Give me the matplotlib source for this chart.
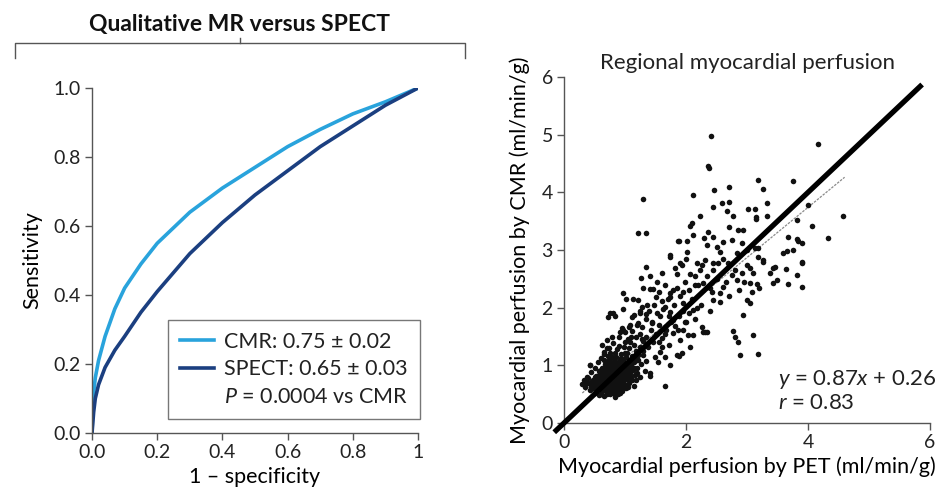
"""ROC comparison and regional perfusion scatter, CMR vs SPECT / PET."""

from __future__ import annotations

import matplotlib

matplotlib.use("Agg")
import matplotlib.pyplot as plt
from matplotlib.lines import Line2D
import numpy as np

FONT = "Lato"
SPINE_COLOR = "#555555"
TEXT_COLOR = "#222222"
CMR_COLOR = "#29a3dc"
SPECT_COLOR = "#1b3f80"
TICK_SIZE = 14
LABEL_SIZE = 15.5
TITLE_SIZE = 16.5
LEGEND_SIZE = 15.5

# --- ROC curves ---
cmr_fpr = [0.0, 0.003, 0.01, 0.02, 0.04, 0.07, 0.10, 0.15, 0.20, 0.30, 0.40, 0.50,
           0.60, 0.70, 0.80, 0.90, 1.0]
cmr_tpr = [0.0, 0.10, 0.16, 0.21, 0.28, 0.36, 0.42, 0.49, 0.55, 0.64, 0.71, 0.77,
           0.83, 0.88, 0.925, 0.96, 1.0]
spect_fpr = [0.0, 0.005, 0.01, 0.02, 0.04, 0.07, 0.10, 0.15, 0.20, 0.30, 0.40, 0.50,
             0.60, 0.70, 0.80, 0.90, 1.0]
spect_tpr = [0.0, 0.06, 0.10, 0.14, 0.19, 0.24, 0.28, 0.35, 0.41, 0.52, 0.61, 0.69,
             0.76, 0.83, 0.89, 0.95, 1.0]
roc_ticks = [0.0, 0.2, 0.4, 0.6, 0.8, 1.0]
roc_xticklabels = ["0.0", "0.2", "0.4", "0.6", "0.8", "1"]
roc_yticklabels = ["0.0", "0.2", "0.4", "0.6", "0.8", "1.0"]
legend_labels = ["CMR: 0.75 \u00b1 0.02", "SPECT: 0.65 \u00b1 0.03",
                 "$P$ = 0.0004 vs CMR"]

# --- regional perfusion, PET (x) vs CMR (y), ml/min/g ---
blob_pet = [0.30, 0.33, 0.35, 0.38, 0.40, 0.42, 0.43, 0.45, 0.46, 0.48, 0.50, 0.50,
            0.52, 0.53, 0.55, 0.55, 0.57, 0.57, 0.58, 0.59, 0.60, 0.60, 0.62, 0.62,
            0.63, 0.64, 0.65, 0.65, 0.66, 0.67, 0.68, 0.68, 0.69, 0.70, 0.70, 0.71,
            0.72, 0.72, 0.73, 0.74, 0.75, 0.75, 0.76, 0.76, 0.77, 0.78, 0.78, 0.79,
            0.80, 0.80, 0.81, 0.82, 0.82, 0.83, 0.83, 0.84, 0.85, 0.85, 0.86, 0.86,
            0.87, 0.88, 0.88, 0.89, 0.90, 0.90, 0.91, 0.92, 0.92, 0.93, 0.94, 0.94,
            0.95, 0.96, 0.96, 0.97, 0.98, 0.98, 0.99, 1.00, 1.00, 1.01, 1.02, 1.03,
            1.04, 1.05, 1.06, 1.06, 1.08, 1.09, 1.10, 1.10, 1.12, 1.13, 1.14, 1.15,
            1.17, 1.18, 1.20, 1.22, 1.24, 1.25, 1.27, 1.30, 1.33, 1.35,
            0.62, 0.66, 0.70, 0.74, 0.74, 0.78, 0.80, 0.82, 0.84, 0.86, 0.88, 0.90,
            0.92, 0.94, 0.96, 0.98, 1.00, 1.02, 1.04, 1.08, 0.64, 0.68, 0.72, 0.76,
            0.80, 0.84, 0.88, 0.92, 0.96, 1.00, 0.58, 0.54, 0.66, 0.72, 0.78, 0.86,
            0.94, 1.02, 1.12, 0.48]
blob_cmr = [0.68, 0.75, 0.62, 0.80, 0.70, 0.58, 1.00, 0.88, 0.66, 0.75, 0.52, 0.95,
            0.62, 0.82, 0.70, 1.05, 0.48, 0.90, 0.60, 0.78, 0.66, 1.12, 0.55, 0.85,
            0.95, 0.72, 0.46, 1.20, 0.62, 0.80, 0.90, 1.02, 0.55, 0.70, 1.30, 0.85,
            0.62, 0.98, 0.76, 1.10, 0.50, 0.90, 0.68, 1.22, 0.82, 0.58, 1.00, 0.74,
            0.92, 1.38, 0.64, 0.86, 1.08, 0.45, 0.78, 0.96, 0.70, 1.15, 0.56, 0.88,
            1.28, 0.80, 1.02, 0.62, 0.94, 0.74, 1.10, 0.52, 0.86, 1.20, 0.68, 0.98,
            0.80, 1.05, 0.60, 0.90, 1.32, 0.74, 1.00, 0.84, 0.66, 1.14, 0.92, 0.76,
            1.22, 0.98, 0.70, 1.08, 0.86, 1.40, 0.78, 1.00, 1.16, 0.92, 0.64, 1.06,
            0.84, 1.25, 0.96, 1.10, 0.80, 1.32, 1.02, 1.18, 0.90, 1.08,
            0.76, 0.86, 0.78, 0.66, 0.84, 0.92, 0.72, 0.98, 0.62, 0.76, 0.92, 0.66,
            1.00, 0.80, 0.94, 0.86, 0.76, 1.04, 0.84, 0.94, 0.64, 0.74, 0.90, 0.76,
            0.84, 0.88, 0.70, 0.78, 0.70, 0.92, 0.70, 0.74, 1.10, 1.16, 1.14, 1.00,
            1.12, 0.60, 0.74, 0.60]

core_pet = [0.56, 0.58, 0.60, 0.61, 0.63, 0.64, 0.65, 0.66, 0.67, 0.68, 0.69, 0.70,
            0.71, 0.72, 0.73, 0.74, 0.75, 0.76, 0.77, 0.78, 0.79, 0.80, 0.81, 0.82,
            0.83, 0.84, 0.85, 0.86, 0.87, 0.88, 0.89, 0.90, 0.91, 0.92, 0.93, 0.94,
            0.95, 0.96, 0.97, 0.98, 0.99, 1.00, 1.01, 1.03, 1.05, 1.07, 1.09, 1.11,
            1.14, 1.16, 0.52, 0.50, 0.46, 0.44, 0.40, 0.36, 0.60, 0.70, 0.80, 0.88,
            0.95, 1.05, 1.18, 1.20, 0.66, 0.74, 0.84, 0.90, 1.00, 1.06]
core_cmr = [0.64, 0.84, 0.74, 0.92, 0.68, 0.80, 0.58, 0.96, 0.70, 0.84, 0.64, 0.92,
            0.74, 1.06, 0.58, 0.94, 0.80, 0.60, 1.04, 0.70, 0.88, 0.62, 1.00, 0.76,
            0.90, 0.54, 0.82, 1.06, 0.68, 0.96, 0.84, 0.58, 0.90, 0.70, 1.06, 0.88,
            0.64, 0.82, 1.10, 0.96, 0.68, 1.04, 0.82, 0.96, 0.88, 1.02, 0.82, 1.08,
            0.96, 1.12, 0.70, 0.80, 0.72, 0.64, 0.78, 0.70, 0.50, 0.50, 0.52, 0.50,
            0.56, 0.62, 0.74, 0.86, 1.24, 1.30, 1.22, 1.34, 1.22, 1.30]

mid_pet = [0.43, 0.70, 0.79, 0.62, 0.90, 1.00, 1.05, 1.12, 1.18, 1.25, 1.30, 0.95,
           1.08, 1.21, 1.20, 1.38, 1.46, 1.49, 1.57, 1.61, 1.66, 1.79, 1.90, 1.89,
           1.41, 1.66, 1.54, 1.74, 1.85, 1.41, 1.30, 1.35, 1.42, 1.50, 1.55, 1.60,
           1.68, 1.72, 1.75, 1.82, 1.88, 1.95, 2.00, 2.05, 1.45, 1.28, 1.15, 1.35,
           0.72, 0.80, 0.97, 0.84, 0.75, 0.92, 0.97, 1.07, 1.11, 1.21, 1.28, 1.25,
           1.34, 1.44, 1.52, 1.62, 1.74, 1.79, 1.87, 2.07, 1.93, 2.12, 2.28, 2.34,
           1.40, 1.48, 1.58, 1.65, 1.70, 1.80, 1.85, 1.90, 1.98, 2.05, 2.10, 2.15,
           2.20, 2.25, 2.35, 2.40, 2.50, 2.55, 2.65, 2.70, 2.80, 2.95, 3.10, 3.20,
           1.55, 1.65, 1.72, 1.95, 2.15, 2.40, 1.20, 1.10, 1.00, 1.25, 1.15, 2.60,
           2.50, 2.30, 2.00, 1.60]
mid_cmr = [1.00, 1.44, 1.49, 1.35, 1.50, 1.58, 1.45, 1.60, 1.50, 1.55, 1.42, 1.65,
           1.70, 1.18, 1.09, 1.32, 1.40, 1.14, 1.23, 1.32, 1.14, 1.56, 1.44, 1.16,
           0.81, 0.64, 1.06, 1.00, 1.18, 0.87, 1.25, 1.50, 1.62, 1.55, 1.70, 1.48,
           1.62, 1.35, 1.75, 1.68, 1.85, 1.62, 1.75, 1.90, 1.75, 1.45, 1.35, 1.80,
           1.84, 1.91, 1.98, 1.85, 1.91, 1.58, 1.61, 1.66, 1.84, 1.73, 1.66, 1.91,
           1.89, 1.73, 1.91, 1.98, 1.92, 1.78, 1.61, 1.32, 1.21, 1.52, 1.58, 1.58,
           1.95, 2.05, 1.85, 2.02, 2.15, 2.05, 2.35, 2.20, 2.45, 2.30, 2.15, 2.55,
           2.40, 2.05, 2.55, 2.35, 2.50, 2.10, 2.45, 2.20, 2.65, 2.45, 2.60, 2.35,
           1.40, 1.55, 1.85, 1.95, 1.80, 1.95, 1.70, 1.50, 1.40, 1.95, 1.88, 2.85,
           3.05, 3.20, 2.85, 2.60]

upper_pet = [1.34, 1.26, 1.41, 1.52, 1.66, 1.82, 1.85, 1.30, 1.41, 1.46, 1.56, 1.74,
             1.79, 0.97, 1.02, 1.13, 1.21, 1.51, 1.61, 1.74, 1.28, 1.36, 1.93, 2.26,
             2.31, 2.52, 3.00, 3.26, 3.46, 3.64, 3.90, 3.38, 3.82, 3.49, 3.43, 3.67,
             3.90, 2.07, 2.23, 2.44, 2.75, 2.92, 3.05, 2.84, 3.05, 3.16, 2.87, 3.08,
             2.15, 2.28, 2.43, 2.56, 2.61, 2.44, 3.00, 3.05, 1.95, 1.95, 2.12, 2.18,
             2.93, 1.98, 2.26, 2.31, 2.77, 2.80, 3.10, 2.03, 2.89, 3.18, 2.85, 1.74,
             1.90, 2.02, 2.18, 2.44, 2.69, 2.56, 2.84, 3.00, 3.13, 3.26, 3.43, 3.59,
             3.75, 3.90]
upper_cmr = [2.70, 2.51, 2.55, 2.44, 2.39, 2.69, 2.58, 2.34, 2.32, 2.32, 2.27, 2.25,
             2.30, 2.25, 2.15, 2.15, 2.13, 2.18, 2.11, 2.18, 2.01, 2.05, 2.74, 2.74,
             2.82, 2.77, 2.74, 2.79, 2.70, 2.67, 2.77, 2.60, 2.57, 2.48, 2.43, 2.41,
             2.36, 2.58, 2.65, 2.65, 2.57, 2.60, 2.69, 2.48, 2.43, 2.41, 2.30, 2.27,
             2.39, 2.43, 2.27, 2.25, 2.36, 2.13, 2.13, 2.08, 2.27, 2.08, 1.96, 1.99,
             1.87, 1.75, 1.66, 1.58, 1.59, 1.49, 1.52, 1.52, 1.18, 1.20, 1.40, 2.88,
             2.77, 2.96, 2.77, 2.77, 2.77, 2.96, 2.94, 3.00, 3.03, 2.82, 2.69, 2.94,
             3.00, 2.79]

top_pet = [2.41, 4.16, 2.36, 2.38, 3.18, 3.75, 2.70, 2.46, 2.12, 3.26, 2.70, 2.59,
           3.33, 2.44, 2.67, 3.02, 3.13, 3.15, 3.15, 3.33, 2.77, 2.23, 4.57, 3.82,
           4.00, 4.07, 4.33, 2.10, 2.07, 2.36, 2.44, 2.70, 2.85, 2.93, 2.12, 2.02,
           2.61, 2.34, 2.75, 2.92, 3.18, 3.67, 3.82, 3.84, 3.90, 3.66, 3.18, 1.30,
           1.21, 1.34, 1.87, 1.74, 1.89]
top_cmr = [4.97, 4.83, 4.45, 4.43, 4.21, 4.19, 4.10, 4.04, 3.95, 4.05, 3.83, 3.82,
           3.81, 3.74, 3.67, 3.72, 3.72, 3.57, 3.53, 3.59, 3.59, 3.59, 3.59, 3.52,
           3.78, 3.41, 3.21, 3.47, 3.41, 3.31, 3.22, 3.40, 3.35, 3.35, 3.26, 3.15,
           3.14, 3.08, 3.17, 3.12, 3.03, 3.22, 3.19, 3.15, 3.12, 2.98, 2.88, 3.88,
           3.29, 3.29, 3.15, 2.91, 3.15]

fit_slope = 0.87
fit_intercept = 0.26
fit_range = [0.3, 4.6]
identity_range = [-0.16, 5.87]
pet_ticks = [0, 2, 4, 6]
cmr_ticks = [0, 1, 2, 3, 4, 5, 6]


def configure_plot_style() -> None:
    plt.rcParams.update({
        "font.family": [FONT, "DejaVu Sans"],
        "mathtext.fontset": "custom",
        "mathtext.rm": FONT,
        "mathtext.it": f"{FONT}:italic",
        "figure.facecolor": "white",
        "axes.facecolor": "white",
        "text.color": TEXT_COLOR,
    })


def style_axes(ax) -> None:
    for side in ("top", "right"):
        ax.spines[side].set_visible(False)
    for side in ("left", "bottom"):
        ax.spines[side].set_color(SPINE_COLOR)
        ax.spines[side].set_linewidth(1.0)
    ax.tick_params(direction="out", length=5, width=1.0, color=SPINE_COLOR,
                   labelsize=TICK_SIZE, labelcolor=TEXT_COLOR, pad=3)


def draw_roc(fig, ax) -> None:
    ax.plot(cmr_fpr, cmr_tpr, color=CMR_COLOR, lw=2.6, solid_capstyle="round")
    ax.plot(spect_fpr, spect_tpr, color=SPECT_COLOR, lw=2.6, solid_capstyle="round")
    ax.set_xlim(0, 1)
    ax.set_ylim(0, 1)
    ax.set_xticks(roc_ticks, roc_xticklabels)
    ax.set_yticks(roc_ticks, roc_yticklabels)
    style_axes(ax)
    ax.set_xlabel("1 \u2013 specificity", fontsize=LABEL_SIZE, labelpad=4)
    ax.set_ylabel("Sensitivity", fontsize=LABEL_SIZE, labelpad=8)

    handles = [Line2D([], [], color=CMR_COLOR, lw=2.6),
               Line2D([], [], color=SPECT_COLOR, lw=2.6),
               Line2D([], [], color="none")]
    leg = ax.legend(handles, legend_labels, loc="lower right",
                    bbox_to_anchor=(1.006, 0.041), fontsize=LEGEND_SIZE,
                    frameon=True, fancybox=False, edgecolor=SPINE_COLOR,
                    handlelength=1.6, handletextpad=0.45, labelspacing=0.35,
                    borderpad=0.55, borderaxespad=0)
    leg.get_frame().set_linewidth(1.0)

    # bracket above the panel
    w, h = fig.get_size_inches() * fig.dpi
    px = lambda x, y: (x / w, 1 - y / h)
    pts = [px(15, 58), px(15, 43), px(465, 43), px(465, 58)]
    fig.add_artist(Line2D([p[0] for p in pts], [p[1] for p in pts],
                          color=SPINE_COLOR, lw=1.0, transform=fig.transFigure))
    a, b = px(240, 43), px(240, 38)
    fig.add_artist(Line2D([a[0], b[0]], [a[1], b[1]], color=SPINE_COLOR, lw=1.0,
                          transform=fig.transFigure))
    x0, y0 = px(240, 24)
    fig.text(x0, y0, "Qualitative MR versus SPECT", ha="center", va="center",
             fontsize=TITLE_SIZE, fontweight="bold", color="#111111")


def draw_scatter(ax) -> None:
    pet = np.concatenate([blob_pet, core_pet, mid_pet, upper_pet, top_pet])
    cmr = np.concatenate([blob_cmr, core_cmr, mid_cmr, upper_cmr, top_cmr])
    ax.scatter(pet, cmr, s=16, color="#111111", linewidths=0, zorder=3)

    fx = np.array(fit_range)
    ax.plot(fx, fit_slope * fx + fit_intercept, color="#8a8a8a", lw=0.9,
            ls=(0, (2, 1)), zorder=2)
    ax.plot(identity_range, identity_range, color="black", lw=3.8,
            solid_capstyle="butt", zorder=4, clip_on=False)

    ax.set_xlim(0, 6)
    ax.set_ylim(0, 6)
    ax.set_xticks(pet_ticks)
    ax.set_yticks(cmr_ticks)
    style_axes(ax)
    ax.set_xlabel("Myocardial perfusion by PET (ml/min/g)", fontsize=LABEL_SIZE,
                  labelpad=4)
    ax.set_ylabel("Myocardial perfusion by CMR (ml/min/g)", fontsize=LABEL_SIZE,
                  labelpad=8)
    ax.set_title("Regional myocardial perfusion", fontsize=LABEL_SIZE + 0.5, pad=6)
    ax.text(3.5, 0.66, "$y$ = 0.87$x$ + 0.26", fontsize=LEGEND_SIZE + 0.5,
            ha="left", va="baseline")
    ax.text(3.5, 0.24, "$r$ = 0.83", fontsize=LEGEND_SIZE + 0.5, ha="left",
            va="baseline")


def main() -> None:
    configure_plot_style()
    fig = plt.figure(figsize=(9.4, 4.9), dpi=100)
    ax_roc = fig.add_axes([0.0979, 0.1163, 0.3468, 0.7041])
    ax_sc = fig.add_axes([0.6, 0.1367, 0.3894, 0.7061])
    draw_roc(fig, ax_roc)
    draw_scatter(ax_sc)
    fig.savefig("out.png", dpi=100, facecolor="white")


if __name__ == "__main__":
    main()
